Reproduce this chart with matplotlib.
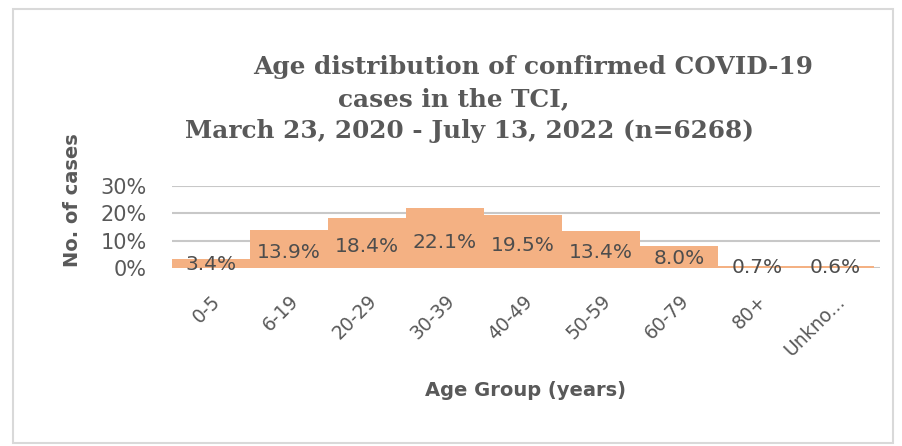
import matplotlib.pyplot as plt
from matplotlib.patches import Rectangle

age_groups = ['0-5', '6-19', '20-29', '30-39', '40-49', '50-59', '60-79', '80+', 'Unkno...']
pct_cases = [3.4, 13.9, 18.4, 22.1, 19.5, 13.4, 8.0, 0.7, 0.6]
y_ticks = [0, 10, 20, 30]

title_lines = ['Age distribution of confirmed COVID-19',
               'cases in the TCI,',
               'March 23, 2020 - July 13, 2022 (n=6268)']

grey = '#595959'
bar_col = '#F4B183'
sans = ['DejaVu Sans']

fig = plt.figure(figsize=(9.03, 4.46), dpi=100)
W, H = 903, 446

# outer chart frame
fig.patches.append(Rectangle((13 / W, 1 - 443 / H), 880 / W, 434 / H,
                             transform=fig.transFigure, fill=False,
                             edgecolor='#d9d9d9', linewidth=1.5))

ax = fig.add_axes([172 / W, 1 - 268 / H, 708 / W, 82 / H])
x = range(len(age_groups))
ax.bar(x, pct_cases, width=1.0, color=bar_col, zorder=2)

# data labels sit a bit under the middle of each bar
for i, v in enumerate(pct_cases):
    ax.text(i, v * 0.42, f'{v:.1f}%', ha='center', va='center',
            fontsize=14.5, color='#4d4d4d', family=sans, zorder=3)

ax.set_xlim(-0.5, 8.577)
ax.set_ylim(0, 30)
ax.set_yticks(y_ticks)
ax.set_yticklabels([f'{t}%' for t in y_ticks], family=sans, fontsize=15, color=grey)
ax.set_xticks(list(x))
ax.set_xticklabels(age_groups, rotation=45, ha='right', rotation_mode='anchor',
                   family=sans, fontsize=13.5, color=grey)
ax.tick_params(axis='y', length=0, pad=18)
ax.tick_params(axis='x', length=0, pad=17)
for s in ax.spines.values():
    s.set_visible(False)
ax.grid(axis='y', color='#c8c8c8', linewidth=1.5, zorder=1)
ax.set_axisbelow(True)

fig.text(73 / W, 1 - 200 / H, 'No. of cases', rotation=90, ha='center', va='center',
         fontsize=14, fontweight='bold', color=grey, family=sans)
fig.text(526 / W, 1 - 390 / H, 'Age Group (years)', ha='center', va='center',
         fontsize=14, fontweight='bold', color=grey, family=sans)

title_x = [253, 338, 185]
title_y = [67, 99, 131]
for line, tx, ty in zip(title_lines, title_x, title_y):
    fig.text(tx / W, 1 - ty / H, line, ha='left', va='center', fontsize=17.8,
             fontweight='bold', color=grey, family=['DejaVu Serif'])

fig.savefig('out.png', dpi=100)
